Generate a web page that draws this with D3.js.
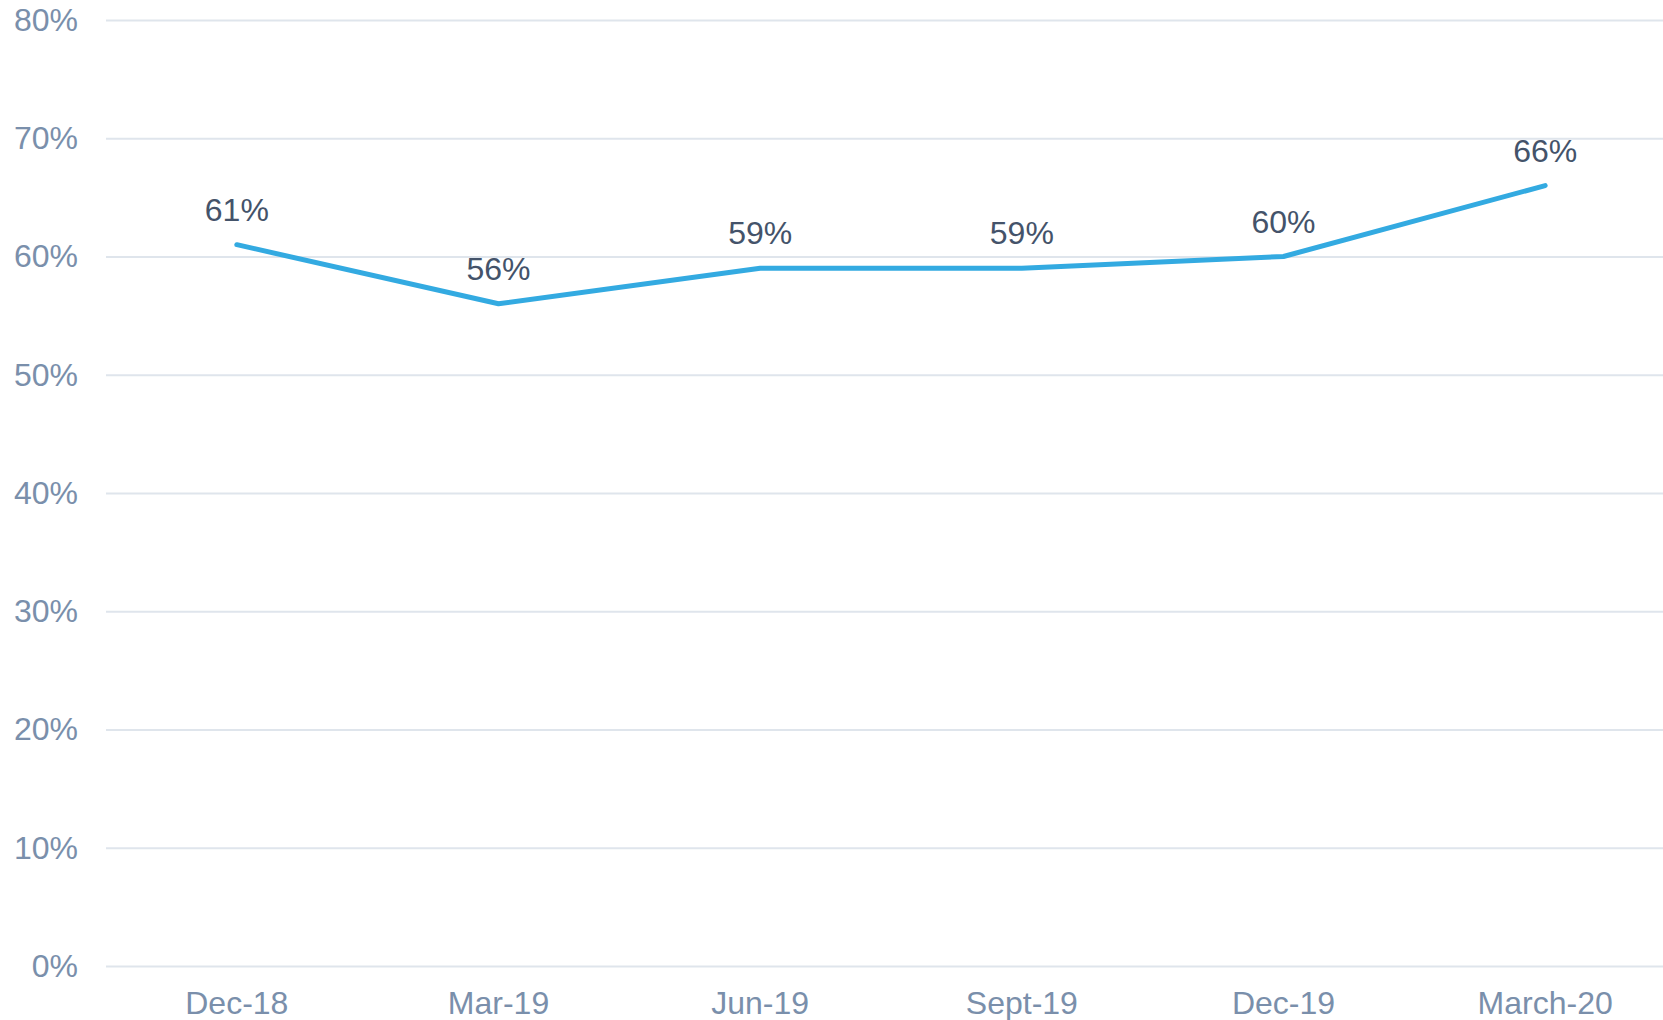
<!DOCTYPE html>
<html>
<head>
<meta charset="utf-8">
<script src="https://cdn.jsdelivr.net/npm/d3@7"></script>
<style>
  body { margin: 0; background: #fff; overflow: hidden; }
  text { font-family: "Liberation Sans", Arial, sans-serif; }
</style>
</head>
<body>
<div id="container"></div>
<script>
// data
let periods = ["Dec-18", "Mar-19", "Jun-19", "Sept-19", "Dec-19", "March-20"];
let values = [61, 56, 59, 59, 60, 66];
let yTicks = [0, 10, 20, 30, 40, 50, 60, 70, 80];

let w = 1663;
let h = 1020;

let viz = d3.select("#container")
  .append("svg")
    .attr("width", w)
    .attr("height", h)
;

// band runs a little past the right edge, like the original
let xScale = d3.scaleBand().domain(periods).range([106, 1676]);
let yScale = d3.scaleLinear().domain([0, 80]).range([966, 20]);

// gridlines + y labels
let yAxis = d3.axisLeft(yScale)
  .tickValues(yTicks)
  .tickFormat(d => d + "%")
  .tickSize(-(w - 106))
  .tickPadding(28);

let yAxisGroup = viz.append("g")
  .attr("transform", "translate(106, 0)")
  .call(yAxis);
yAxisGroup.select(".domain").remove();
yAxisGroup.selectAll(".tick line")
  .attr("stroke", "#dfe5ec")
  .attr("stroke-width", 2);
yAxisGroup.selectAll(".tick text")
  .attr("fill", "#7a8fab")
  .attr("font-size", "32px")
  .attr("font-family", "'Liberation Sans', Arial, sans-serif");

// x labels
let xAxis = d3.axisBottom(xScale).tickSize(0).tickPadding(25);
let xAxisGroup = viz.append("g")
  .attr("transform", "translate(0, 966)")
  .call(xAxis);
xAxisGroup.select(".domain").remove();
xAxisGroup.selectAll(".tick text")
  .attr("fill", "#7a8fab")
  .attr("font-size", "32px")
  .attr("font-family", "'Liberation Sans', Arial, sans-serif");

function xPos(d, i) {
  return xScale(periods[i]) + xScale.bandwidth() / 2;
}

let line = d3.line()
  .x(xPos)
  .y(d => yScale(d));

viz.append("path")
  .datum(values)
  .attr("d", line)
  .attr("fill", "none")
  .attr("stroke", "#33aae1")
  .attr("stroke-width", 5)
  .attr("stroke-linecap", "round")
  .attr("stroke-linejoin", "round");

viz.selectAll(".valueLabel")
  .data(values)
  .enter()
  .append("text")
    .attr("class", "valueLabel")
    .attr("x", xPos)
    .attr("y", d => yScale(d) - 24)
    .attr("text-anchor", "middle")
    .attr("fill", "#44536a")
    .attr("font-size", "32px")
    .text(d => d + "%");
</script>
</body>
</html>
